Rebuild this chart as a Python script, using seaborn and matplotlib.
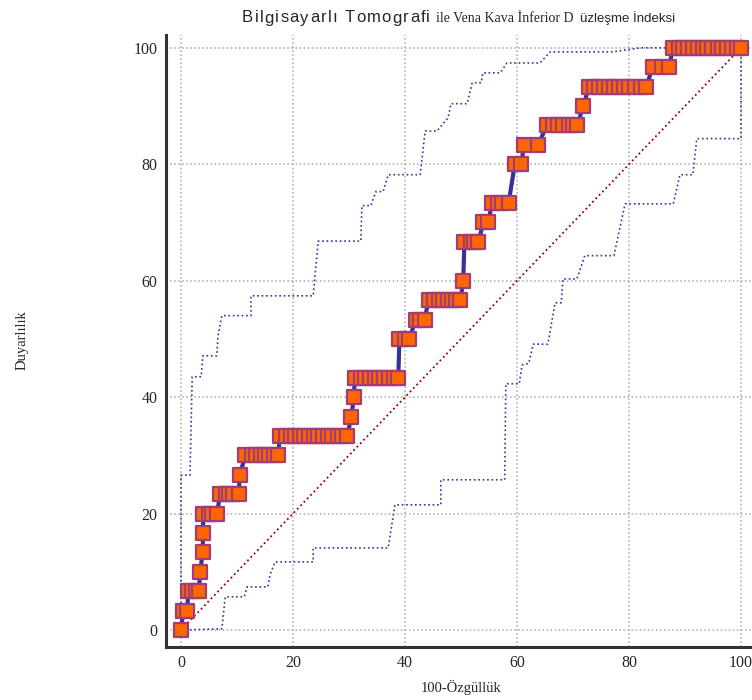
import matplotlib
matplotlib.use("Agg")
import pandas as pd
import seaborn as sns
import matplotlib.pyplot as plt
from matplotlib.font_manager import FontProperties
from matplotlib.ticker import MultipleLocator

# sensitivity levels (k/30) and the 100-specificity values of the points at each level
sens_levels = [0, 3.33, 6.67, 10, 13.33, 16.67, 20, 23.33, 26.67, 30, 33.33, 36.67, 40,
               43.33, 50, 53.33, 56.67, 60, 66.67, 70, 73.33, 80, 83.33, 86.67, 90,
               93.33, 96.67, 100]
spec_rows = [
    [0],
    [0.4, 1.1],
    [1.3, 2.0, 2.6, 3.2],
    [3.4],
    [3.9],
    [3.9],
    [4.0, 5.0, 5.6, 6.5],
    [6.9, 8.0, 8.6, 9.3, 10.3],
    [10.5],
    [11.5, 12.6, 13.4, 14.3, 15.0, 15.8, 16.6, 17.4],
    [17.6, 18.8, 19.6, 20.4, 21.3, 22.0, 22.9, 23.8, 24.5, 25.4, 26.2, 27.0, 28.0, 28.8, 29.7],
    [30.4],
    [30.9],
    [31.0, 32.1, 32.9, 33.8, 34.6, 35.4, 36.3, 37.1, 38.0, 38.8],
    [39.0, 40.0, 40.8],
    [41.9, 42.7, 43.5],
    [44.2, 45.2, 46.1, 46.8, 47.6, 48.4, 49.1, 49.9],
    [50.4],
    [50.6, 51.7, 52.4, 53.1],
    [54.0, 54.8],
    [55.6, 56.6, 57.4, 58.5],
    [59.6, 60.8],
    [61.2, 63.8],
    [65.3, 66.4, 67.3, 68.3, 69.3, 70.0, 70.8],
    [71.8],
    [72.9, 73.8, 74.7, 75.6, 76.5, 77.4, 78.2, 79.1, 80.0, 81.0, 82.1, 83.1],
    [84.2, 85.8, 87.1],
    [87.9, 88.9, 89.7, 90.6, 91.4, 92.3, 93.2, 94.0, 94.9, 95.8, 96.6, 97.5, 98.4, 99.2, 100],
]

# confidence bounds
upper_x = [0, 0, 1.6, 2.0, 3.6, 3.9, 6.4, 6.6, 7.3, 12.5, 12.5, 23.6, 24.5, 32.1, 32.3, 33.9,
           34.8, 36.1, 37.0, 42.7, 43.6, 45.7, 47.7, 48.2, 51.1, 52.0, 53.6, 53.9, 57.0,
           58.2, 64.1, 65.9, 77.1, 82.0, 100]
upper_y = [0, 26.6, 26.6, 43.5, 43.5, 47.1, 47.1, 50.5, 54.0, 54.0, 57.4, 57.4, 66.8, 66.8,
           72.9, 72.9, 75.3, 75.3, 78.2, 78.2, 85.7, 85.7, 88.0, 90.4, 90.4, 94.0, 94.0,
           95.7, 95.7, 97.4, 97.4, 99.3, 99.3, 100, 100]
lower_x = [0, 7.3, 7.9, 11.3, 11.8, 15.5, 15.9, 16.8, 23.6, 23.6, 37.0, 38.2, 46.4, 46.4,
           57.8, 58.0, 60.4, 60.9, 62.1, 62.9, 65.5, 66.8, 67.9, 68.2, 70.7, 72.1, 77.3,
           79.3, 87.9, 89.1, 91.4, 92.1, 100, 100]
lower_y = [0, 0.2, 5.7, 5.7, 7.4, 7.4, 9.5, 11.7, 11.7, 14.1, 14.1, 21.5, 21.5, 25.8,
           25.8, 42.3, 42.3, 45.5, 45.8, 49.1, 49.1, 56.2, 56.2, 60.3, 60.3, 64.3, 64.3,
           73.2, 73.2, 78.2, 78.2, 84.4, 84.4, 100]
diag = [0, 100]

pts = [(x, s) for s, xs in zip(sens_levels, spec_rows) for x in xs]
df = pd.DataFrame(pts, columns=["fpr", "sens"])
up = pd.DataFrame({"x": upper_x, "y": upper_y})
lo = pd.DataFrame({"x": lower_x, "y": lower_y})

sns.set_style("white")
plt.rcParams["font.family"] = ["Liberation Serif", "DejaVu Serif"]

fig = plt.figure(figsize=(7.52, 7.0), dpi=100)
ax = fig.add_axes([166 / 752, 53 / 700, 586 / 752, 612 / 700])

ax.plot(diag, diag, color="#990000", ls=":", lw=1.3, zorder=2)
sns.lineplot(data=up, x="x", y="y", sort=False, estimator=None, color="#3333aa",
             ls=":", lw=1.2, ax=ax, zorder=2)
sns.lineplot(data=lo, x="x", y="y", sort=False, estimator=None, color="#3333aa",
             ls=":", lw=1.2, ax=ax, zorder=2)
sns.lineplot(data=df, x="fpr", y="sens", sort=False, estimator=None, color="#333399",
             lw=3, ax=ax, zorder=3)
sns.scatterplot(data=df, x="fpr", y="sens", marker="s", s=100, color="#ff6600",
                edgecolor="#a23c74", linewidth=1.6, ax=ax, zorder=4)

ax.set_xlim(-2.68, 101.96)
ax.set_ylim(-2.92, 102.2)
ax.xaxis.set_major_locator(MultipleLocator(20))
ax.xaxis.set_minor_locator(MultipleLocator(5))
ax.yaxis.set_major_locator(MultipleLocator(20))
ax.yaxis.set_minor_locator(MultipleLocator(5))
ax.grid(True, which="major", color="#a8a8a8", ls=":", lw=1.1)
ax.set_axisbelow(True)
for side in ["top", "right"]:
    ax.spines[side].set_visible(False)
for side in ["left", "bottom"]:
    ax.spines[side].set_linewidth(2.2)
    ax.spines[side].set_color("#333333")
ax.tick_params(which="major", direction="in", length=10, width=2.2, color="#333333",
               labelsize=11.5, pad=6)
ax.tick_params(which="minor", direction="in", length=5, width=1.2, color="#333333")
ax.set_xlabel("")
ax.set_ylabel("")

fig.text(461 / 752, 1 - 687 / 700, "100-Özgüllük", ha="center", va="center", fontsize=10.5)
fig.text(22 / 752, 1 - 340 / 700, "Duyarlılık", ha="center", va="center", rotation=90,
         fontsize=10.5)

# title: the original mixes fonts, first part a little spread out
ty = 1 - 18 / 700
part1 = "Bilgisayarlı Tomografi"
fp = FontProperties(family="Liberation Sans", size=12)
rend = fig.canvas.get_renderer()
natural = rend.get_text_width_height_descent(part1, fp, ismath=False)[0]
extra = (186 - natural) / (len(part1) - 1)
x = 242.0
for ch in part1:
    fig.text(x / 752, ty, ch, ha="left", va="center", fontproperties=fp)
    adv = rend.get_text_width_height_descent(ch + "|", fp, ismath=False)[0] - \
        rend.get_text_width_height_descent("|", fp, ismath=False)[0]
    x += adv + extra
fig.text(573 / 752, ty, "ile Vena Kava İnferior D", ha="right", va="center", fontsize=10,
         family="Liberation Serif")
fig.text(675 / 752, ty, "üzleşme İndeksi", ha="right", va="center", fontsize=9.5,
         family="Liberation Sans")

fig.savefig("out.png", dpi=100)
